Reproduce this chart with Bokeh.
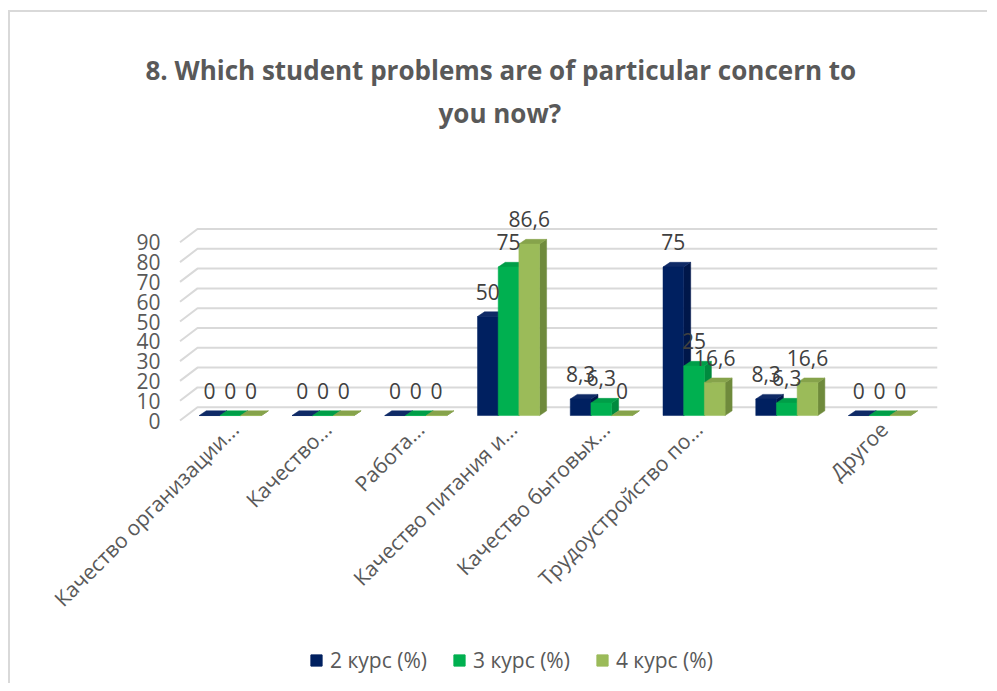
import math
from bokeh.plotting import figure
from bokeh.layouts import column
from bokeh.models import ColumnDataSource, FixedTicker, Title, Legend, LegendItem, Range1d
from bokeh.core.properties import value
from bokeh.embed import file_html
from bokeh.resources import INLINE

# ---------------- data ----------------
TITLE_LINE_1 = "8. Which student problems are of particular concern to"
TITLE_LINE_2 = "you now?"

categories = [
    "Качество организации...",
    "Качество...",
    "Работа...",
    "Качество питания и...",
    "Качество бытовых...",
    "Трудоустройство по...",
    "",
    "Другое",
]
series_names = ["2 курс (%)", "3 курс (%)", "4 курс (%)"]
course_2 = [0, 0, 0, 50, 8.3, 75, 8.3, 0]
course_3 = [0, 0, 0, 75, 6.3, 25, 6.3, 0]
course_4 = [0, 0, 0, 86.6, 0, 16.6, 16.6, 0]
y_ticks = [0, 10, 20, 30, 40, 50, 60, 70, 80, 90]

# ---------------- styles ----------------
front_colors = ["#002060", "#00B050", "#9BBB59"]
top_colors = ["#0F2A66", "#009E48", "#86A34B"]
side_colors = ["#00174A", "#008A3E", "#6F8A3C"]
GRID_COLOR = "#D9D9D9"
TEXT_COLOR = "#595959"
LABEL_COLOR = "#404040"
FONT = "Open Sans"

PX_PER_X = 92.75
PX_PER_Y = 1.98
BAR_W = 20.7 / PX_PER_X
CLUSTER_SHIFT = -0.047
BAR_BASE = 5.0 / PX_PER_Y
BAR_DX = 7.0 / PX_PER_X
BAR_DY = 4.7 / PX_PER_Y
WALL_DX = 17.5 / PX_PER_X
WALL_DY = 13.3 / PX_PER_Y

X0, X1 = 0.3945, 8.5778
Y0, Y1 = -1.0, 111.12
W, H_MAIN, H_LEG = 977, 628, 43

p = figure(
    width=W, height=H_MAIN,
    x_range=Range1d(X0, X1), y_range=Range1d(Y0, Y1),
    output_backend="svg", toolbar_location=None, title=None,
    min_border_left=168, min_border_right=50,
    min_border_top=188, min_border_bottom=218,
)
p.outline_line_color = None
p.background_fill_color = "white"
p.border_fill_color = "white"
p.xgrid.visible = False
p.ygrid.visible = False

# ---------------- 3D gridlines (side wall + back wall) ----------------
gx, gy = [], []
for t in y_ticks:
    gx.append([X0 + 1.5 / PX_PER_X, X0 + 1.5 / PX_PER_X + WALL_DX, X1])
    gy.append([t, t + WALL_DY, t + WALL_DY])
p.multi_line(gx, gy, line_color=GRID_COLOR, line_width=2)

# ---------------- 3D bars ----------------
values = [course_2, course_3, course_4]
n = len(categories)
lab_x, lab_y, lab_t = [], [], []
for j, vals in enumerate(values):
    lefts = [k + 1 + CLUSTER_SHIFT + (j - 1.5) * BAR_W for k in range(n)]
    rights = [l + BAR_W for l in lefts]
    bottoms = [BAR_BASE] * n
    tops = [BAR_BASE + v for v in vals]
    side_xs = [[r, r, r + BAR_DX, r + BAR_DX] for r in rights]
    side_ys = [[b, t, t + BAR_DY, b + BAR_DY] for b, t in zip(bottoms, tops)]
    top_xs = [[l, r, r + BAR_DX, l + BAR_DX] for l, r in zip(lefts, rights)]
    top_ys = [[t, t, t + BAR_DY, t + BAR_DY] for t in tops]
    p.patches(side_xs, side_ys, fill_color=side_colors[j], line_color=side_colors[j], line_width=0.5)
    p.patches(top_xs, top_ys, fill_color=top_colors[j], line_color=top_colors[j], line_width=0.5)
    p.quad(left=lefts, right=rights, bottom=bottoms, top=tops,
           fill_color=front_colors[j], line_color=front_colors[j], line_width=0.5)
    for l, t, v in zip(lefts, tops, vals):
        lab_x.append(l + BAR_W / 2)
        lab_y.append(t)
        lab_t.append(f"{v:g}".replace(".", ","))

lab_src = ColumnDataSource(dict(x=lab_x, y=lab_y, text=lab_t))
p.text(x="x", y="y", text="text", source=lab_src, text_align="center",
       text_baseline="middle", y_offset=-25, text_font=value(FONT),
       text_font_size="21px", text_color=LABEL_COLOR)

# ---------------- axes ----------------
p.yaxis.ticker = FixedTicker(ticks=y_ticks)
p.yaxis.axis_line_color = None
p.yaxis.major_tick_line_color = None
p.yaxis.minor_tick_line_color = None
p.yaxis.major_tick_out = 0
p.yaxis.major_label_standoff = 18
p.yaxis.major_label_text_font = FONT
p.yaxis.major_label_text_font_size = "21px"
p.yaxis.major_label_text_color = TEXT_COLOR

x_ticks = [i + 1 for i, c in enumerate(categories) if c]
p.xaxis.ticker = FixedTicker(ticks=x_ticks)
p.xaxis.major_label_overrides = {i + 1: c for i, c in enumerate(categories) if c}
p.xaxis.major_label_orientation = math.pi / 4
p.xaxis.axis_line_color = None
p.xaxis.major_tick_line_color = None
p.xaxis.minor_tick_line_color = None
p.xaxis.major_tick_out = 0
p.xaxis.major_label_standoff = 3
p.xaxis.major_label_text_font = FONT
p.xaxis.major_label_text_font_size = "21px"
p.xaxis.major_label_text_color = TEXT_COLOR

# ---------------- title ----------------
spacer = Title(text=" ", text_font_size="1px", standoff=67)
t2 = Title(text=TITLE_LINE_2, align="left", offset=260, standoff=0,
           text_font=FONT, text_font_size="26px", text_font_style="bold",
           text_color=TEXT_COLOR)
t1 = Title(text=TITLE_LINE_1, align="left", offset=-33, standoff=10,
           text_font=FONT, text_font_size="26px", text_font_style="bold",
           text_color=TEXT_COLOR)
p.add_layout(spacer, "above")
p.add_layout(t2, "above")
p.add_layout(t1, "above")

# ---------------- legend (own strip below the chart) ----------------
leg_fig = figure(
    width=W, height=H_LEG, x_range=Range1d(0, 1), y_range=Range1d(0, 1),
    output_backend="svg", toolbar_location=None, title=None,
    x_axis_location=None, y_axis_location=None, min_border=0,
)
leg_fig.outline_line_color = None
leg_fig.grid.visible = False
# legend swatches only (kept outside the visible range of this strip)
leg_renderers = [
    leg_fig.quad(left=[-2], right=[-1], bottom=[-2], top=[-1], fill_color=c, line_color=c)
    for c in front_colors
]
legend = Legend(
    items=[LegendItem(label=name, renderers=[r]) for name, r in zip(series_names, leg_renderers)],
    orientation="horizontal", location=(131, 9),
    glyph_width=14, glyph_height=14, label_standoff=7, spacing=25,
    padding=0, margin=0, border_line_color=None, background_fill_alpha=0,
    label_text_font=FONT, label_text_font_size="21px", label_text_color=TEXT_COLOR,
)
leg_fig.add_layout(legend)

layout = column(p, leg_fig, spacing=0)
layout.styles = {
    "border-left": "2px solid #D9D9D9",
    "border-top": "2px solid #D9D9D9",
    "margin-left": "8px",
    "margin-top": "10px",
}

open("out.html", "w").write(file_html(layout, INLINE))
